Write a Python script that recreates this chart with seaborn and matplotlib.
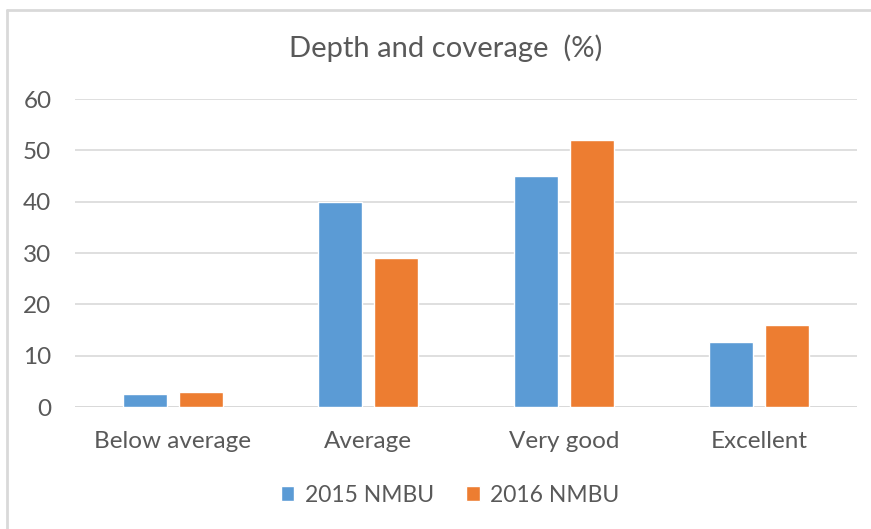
import seaborn as sns
import pandas as pd
import matplotlib.pyplot as plt
from matplotlib.lines import Line2D

categories = ["Below average", "Average", "Very good", "Excellent"]
series = ["2015 NMBU", "2016 NMBU"]
values_2015 = [2.5, 40, 45, 12.7]
values_2016 = [2.9, 29, 52, 16]

colors = ["#5B9BD5", "#ED7D31"]
text_color = "#595959"
grid_color = "#D9D9D9"

sns.set_style("white")
plt.rcParams['font.family'] = ['Lato', 'DejaVu Sans']

df = pd.DataFrame({
	"category": categories * 2,
	"series": [series[0]] * 4 + [series[1]] * 4,
	"value": values_2015 + values_2016,
})

fig = plt.figure(figsize=(8.71, 5.29), dpi=100)
ax = fig.add_axes([75 / 871, 1 - 407 / 529, (857 - 75) / 871, (407 - 99) / 529])

sns.barplot(data=df, x="category", y="value", hue="series", order=categories,
	hue_order=series, palette=colors, width=0.57, gap=0.21, saturation=1,
	errorbar=None, ax=ax, zorder=3)

ax.set_ylim(0, 60)
ax.set_xlim(-0.5, 3.5)
ax.set_yticks(range(0, 61, 10))
ax.yaxis.grid(True, color=grid_color, linewidth=1.2, zorder=0)
ax.set_axisbelow(True)
for s in ax.spines.values():
	s.set_visible(False)
ax.axhline(0, color=grid_color, linewidth=1.4, zorder=2)
ax.tick_params(axis="both", length=0, labelsize=17.5, labelcolor=text_color)
ax.tick_params(axis="y", pad=17)
ax.tick_params(axis="x", pad=17)
ax.set_xlabel("")
ax.set_ylabel("")

fig.text(446 / 871, 1 - 48 / 529, "Depth and coverage  (%)", ha="center", va="center",
	fontsize=21, color=text_color)

handles, labels = ax.get_legend_handles_labels()
ax.legend_.remove()
fig.legend(handles, labels, loc="center", bbox_to_anchor=(450 / 871, 1 - 495 / 529),
	ncol=2, frameon=False, fontsize=16.5, labelcolor=text_color,
	handlelength=0.6, handleheight=0.6, handletextpad=0.45, columnspacing=1.4)

# chart area border (top and left edges visible)
fig.add_artist(Line2D([7 / 871, 1], [1 - 10 / 529, 1 - 10 / 529], transform=fig.transFigure,
	color=grid_color, linewidth=2))
fig.add_artist(Line2D([7 / 871, 7 / 871], [0, 1 - 10 / 529], transform=fig.transFigure,
	color=grid_color, linewidth=2))

plt.savefig("out.png", dpi=100)
plt.close()
